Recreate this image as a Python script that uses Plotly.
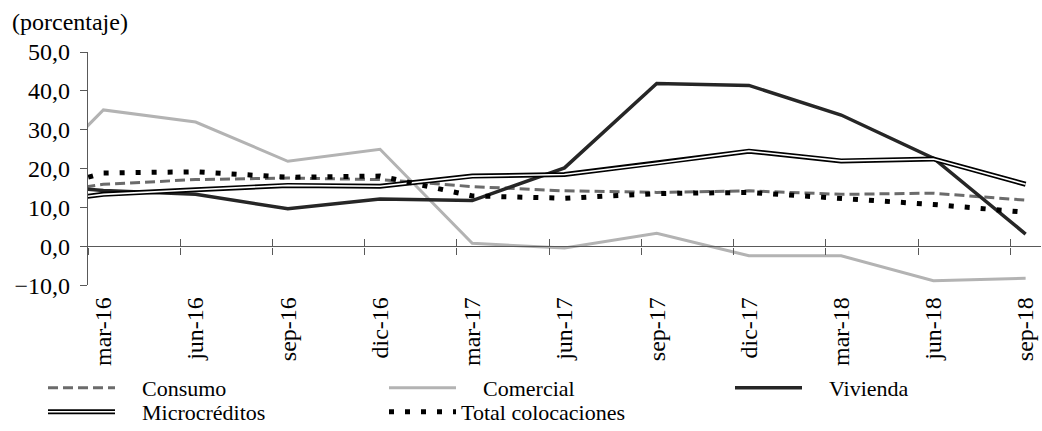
import plotly.graph_objects as go

# Quarterly growth rates (percent)
periods = ["dic-15", "mar-16", "jun-16", "sep-16", "dic-16", "mar-17", "jun-17",
           "sep-17", "dic-17", "mar-18", "jun-18", "sep-18"]
consumo = [12.4, 16.0, 17.2, 17.6, 17.2, 15.4, 14.3, 13.9, 14.3, 13.4, 13.7, 11.9]
comercial = [11.1, 35.1, 32.0, 21.9, 25.0, 0.8, -0.4, 3.4, -2.4, -2.4, -8.8, -8.2]
vivienda = [16.2, 14.4, 13.4, 9.7, 12.2, 11.8, 20.2, 41.9, 41.4, 33.8, 22.7, 3.2]
microcreditos = [10.4, 13.4, 14.6, 15.7, 15.5, 18.1, 18.5, 21.4, 24.5, 22.0, 22.5, 16.0]
total = [12.3, 18.9, 19.2, 17.8, 18.1, 13.0, 12.4, 13.6, 13.9, 12.4, 10.8, 8.8]

# months elapsed since mar-16 (monthly date axis, quarterly observations)
months = [(i - 1) * 3 for i in range(len(periods))]
shown = periods[1:]
shown_pos = months[1:]
boundaries = [m - 0.5 for m in shown_pos]

FONT = "Times New Roman, Liberation Serif, serif"
AXIS = "#595959"
PAD = "\u2003"  # spacing between legend key and label

fig = go.Figure()
fig.add_trace(go.Scatter(x=months, y=comercial, name=PAD + "Comercial", mode="lines",
                         line=dict(color="#b3b3b3", width=3), legend="legend2"))
fig.add_trace(go.Scatter(x=months, y=consumo, name=PAD + "Consumo", mode="lines",
                         line=dict(color="#6b6b6b", width=3, dash="10px,5px"),
                         legend="legend"))
fig.add_trace(go.Scatter(x=months, y=vivienda, name=PAD + "Vivienda", mode="lines",
                         line=dict(color="#262626", width=3.5), legend="legend3"))
# double-stroke line: black outline with a thin white core
fig.add_trace(go.Scatter(x=months, y=microcreditos, name=PAD + "Microcréditos", mode="lines",
                         line=dict(color="#000000", width=5), legend="legend4"))
fig.add_trace(go.Scatter(x=months, y=microcreditos, name=PAD, mode="lines",
                         line=dict(color="#ffffff", width=1.6), legend="legend6",
                         hoverinfo="skip"))
fig.add_trace(go.Scatter(x=months, y=total, name="Total colocaciones", mode="lines",
                         line=dict(color="#000000", width=5, dash="5px,11px"),
                         legend="legend5"))

xrange = [-0.5, 30.5]
legend_common = dict(orientation="h", xanchor="left", xref="container",
                     yanchor="middle", yref="container", itemwidth=67,
                     font=dict(family=FONT, size=22, color="black"),
                     bgcolor="rgba(0,0,0,0)", borderwidth=0)
row1, row2 = 1 - 388 / 431, 1 - 412 / 431

fig.update_layout(
    width=1042, height=431,
    margin=dict(l=88, r=1, t=52, b=141),
    paper_bgcolor="white", plot_bgcolor="white",
    separators=",.",
    font=dict(family=FONT, size=24, color="black"),
    title=dict(text="(porcentaje)", x=12 / 1042, xanchor="left", xref="container",
               y=1 - 22 / 431, yanchor="middle", yref="container",
               font=dict(family=FONT, size=24, color="black")),
    xaxis=dict(range=xrange, tickmode="array", tickvals=shown_pos, ticktext=shown,
               tickangle=-90, ticks="", showline=False, showgrid=False, zeroline=False,
               ticklabelstandoff=6,
               tickfont=dict(family=FONT, size=24, color="black")),
    xaxis2=dict(range=xrange, overlaying="x", anchor="free", position=10 / 60,
                tickmode="array", tickvals=boundaries, showticklabels=False,
                ticks="outside", ticklen=7, tickcolor=AXIS, tickwidth=1,
                showline=True, linecolor=AXIS, linewidth=1.3,
                showgrid=False, zeroline=False),
    xaxis3=dict(range=xrange, overlaying="x", anchor="free", position=10 / 60,
                tickmode="array", tickvals=boundaries, showticklabels=False,
                ticks="inside", ticklen=7, tickcolor=AXIS, tickwidth=1,
                showline=False, showgrid=False, zeroline=False),
    yaxis=dict(range=[-10, 50], tickmode="array", tickvals=[-10, 0, 10, 20, 30, 40, 50],
               tickformat=".1f", ticks="outside", ticklen=7, tickcolor=AXIS,
               showline=True, linecolor=AXIS, linewidth=1.3, showgrid=False,
               zeroline=False, ticklabelstandoff=5,
               tickfont=dict(family=FONT, size=24, color="black")),
    legend=dict(legend_common, x=43 / 1042, y=row1),
    legend2=dict(legend_common, x=384 / 1042, y=row1),
    legend3=dict(legend_common, x=730 / 1042, y=row1),
    legend4=dict(legend_common, x=43 / 1042, y=row2),
    legend5=dict(legend_common, x=384 / 1042, y=row2),
    legend6=dict(legend_common, x=43 / 1042, y=row2),
    showlegend=True,
)
# helper traces so the overlay axes at the zero line are rendered
fig.add_trace(go.Scatter(x=[None], y=[None], xaxis="x2", showlegend=False, hoverinfo="skip"))
fig.add_trace(go.Scatter(x=[None], y=[None], xaxis="x3", showlegend=False, hoverinfo="skip"))

fig.write_html("out.html")
